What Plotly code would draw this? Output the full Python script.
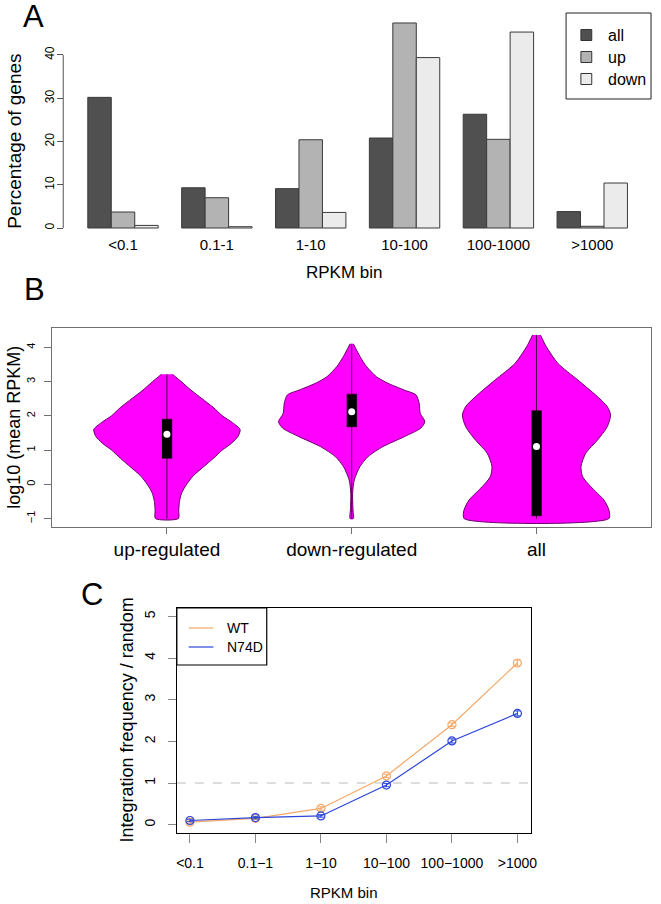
import plotly.graph_objects as go

W, H = 661, 904
FONT = "Liberation Sans, Arial, sans-serif"


def px(x):
    return x / W


def py(y):
    return 1 - y / H


# ---- panel A: percentage of genes per RPKM bin
bins_a = ["<0.1", "0.1-1", "1-10", "10-100", "100-1000", ">1000"]
pct_all = [30.2, 9.3, 9.1, 20.8, 26.3, 3.8]
pct_up = [3.7, 7.0, 20.4, 47.4, 20.5, 0.4]
pct_down = [0.6, 0.3, 3.6, 39.4, 45.3, 10.4]
series_a = ["all", "up", "down"]
colors_a = ["#505050", "#b3b3b3", "#ebebeb"]

# ---- panel B: violin outlines (y level, half width)
groups_b = ["up-regulated", "down-regulated", "all"]
up_y = [3.21, 3.0, 2.75, 2.5, 2.25, 2.0, 1.8, 1.6, 1.4, 1.2, 1.0, 0.75, 0.5,
        0.25, 0.0, -0.25, -0.5, -0.75, -1.0]
up_w = [0.03, 0.077, 0.13, 0.19, 0.25, 0.30, 0.355, 0.396, 0.385, 0.35, 0.30,
        0.25, 0.196, 0.143, 0.107, 0.08, 0.068, 0.064, 0.062]
down_y = [4.10, 3.73, 3.44, 3.14, 2.95, 2.75, 2.61, 2.37, 2.07, 1.83, 1.64,
          1.39, 1.10, 0.81, 0.52, 0.13, -0.26, -0.75, -1.0]
down_w = [0.009, 0.045, 0.080, 0.134, 0.196, 0.285, 0.348, 0.365, 0.371,
          0.396, 0.374, 0.285, 0.169, 0.089, 0.045, 0.014, 0.005, 0.007, 0.009]
all_y = [4.36, 4.02, 3.53, 3.05, 2.56, 2.27, 2.02, 1.68, 1.29, 0.91, 0.52,
         0.22, -0.07, -0.46, -0.75, -1.0]
all_w = [0.021, 0.053, 0.116, 0.223, 0.33, 0.383, 0.401, 0.383, 0.33, 0.267,
         0.241, 0.25, 0.294, 0.365, 0.392, 0.392]
q1_b = [0.76, 1.68, -0.92]
q3_b = [1.90, 2.63, 2.15]
median_b = [1.46, 2.12, 1.10]
BOX_HALF = 0.027

# ---- panel C: integration frequency / random
bins_c = ["<0.1", "0.1\u22121", "1\u221210", "10\u2212100", "100\u22121000", ">1000"]
wt = [0.06, 0.15, 0.39, 1.17, 2.40, 3.88]
wt_err = [0.03, 0.03, 0.04, 0.04, 0.04, 0.07]
n74d = [0.10, 0.17, 0.21, 0.95, 2.01, 2.67]
n74d_err = [0.03, 0.03, 0.03, 0.04, 0.05, 0.06]
WT_COLOR = "#f3a868"
N74D_COLOR = "#2b45db"

fig = go.Figure()

# panel A bars
for name, vals, col in zip(series_a, [pct_all, pct_up, pct_down], colors_a):
    fig.add_trace(go.Bar(
        x=bins_a, y=vals, name=name, xaxis="x", yaxis="y",
        marker={"color": col, "line": {"color": "#3a3a3a", "width": 1}},
    ))

# panel B violins
outlines = [(up_y, up_w), (down_y, down_w), (all_y, all_w)]
for i, (ys, ws) in enumerate(outlines):
    c = i + 1
    xs = [c + w for w in ws] + [c - w for w in reversed(ws)]
    yy = list(ys) + list(reversed(ys))
    fig.add_trace(go.Scatter(
        x=xs, y=yy, xaxis="x2", yaxis="y2", mode="lines", fill="toself",
        fillcolor="#ff00ff", line={"color": "#6a006a", "width": 1,
                                   "shape": "spline", "smoothing": 0.7},
        hoverinfo="skip",
    ))
    fig.add_trace(go.Scatter(
        x=[c, c], y=[min(ys), max(ys)], xaxis="x2", yaxis="y2", mode="lines",
        line={"color": "#4a004a", "width": 1}, hoverinfo="skip",
    ))
    # interquartile box
    fig.add_trace(go.Scatter(
        x=[c - BOX_HALF, c + BOX_HALF, c + BOX_HALF, c - BOX_HALF],
        y=[q1_b[i], q1_b[i], q3_b[i], q3_b[i]], xaxis="x2", yaxis="y2",
        mode="lines", fill="toself", fillcolor="black",
        line={"color": "black", "width": 0.5}, hoverinfo="skip",
    ))

fig.add_trace(go.Scatter(
    x=[1, 2, 3], y=median_b, xaxis="x2", yaxis="y2", mode="markers",
    marker={"color": "white", "size": 7}, hoverinfo="skip",
))

# panel C lines
for vals, errs, col in [(wt, wt_err, WT_COLOR), (n74d, n74d_err, N74D_COLOR)]:
    fig.add_trace(go.Scatter(
        x=bins_c, y=vals, xaxis="x3", yaxis="y3", mode="lines+markers",
        line={"color": col, "width": 1.2},
        marker={"symbol": "circle-open", "size": 8, "color": col,
                "line": {"width": 1.2, "color": col}},
        error_y={"type": "data", "array": errs, "color": col,
                 "thickness": 1, "width": 3},
    ))

shapes = [
    # panel A y axis line (0..40)
    dict(type="line", xref="paper", yref="y", x0=px(63), x1=px(63), y0=0, y1=40,
         line={"color": "#555555", "width": 1}),
    # panel A legend
    dict(type="rect", xref="paper", yref="paper", x0=px(572), x1=px(658),
         y0=py(99), y1=py(13), line={"color": "#222222", "width": 1}),
    # panel C dashed reference line
    dict(type="line", xref="x3 domain", yref="y3", x0=0, x1=1, y0=1, y1=1,
         line={"color": "#bbbbbb", "width": 1.2, "dash": "dash"}, layer="below"),
    # panel C legend
    dict(type="rect", xref="paper", yref="paper", x0=px(178), x1=px(269),
         y0=py(665), y1=py(608), line={"color": "black", "width": 1.2},
         fillcolor="white"),
    dict(type="line", xref="paper", yref="paper", x0=px(190), x1=px(215),
         y0=py(628), y1=py(628), line={"color": WT_COLOR, "width": 1.2}),
    dict(type="line", xref="paper", yref="paper", x0=px(190), x1=px(215),
         y0=py(647), y1=py(647), line={"color": N74D_COLOR, "width": 1.2}),
]
annotations = []
for k, (name, col) in enumerate(zip(series_a, colors_a)):
    yc = 35 + 22 * k
    shapes.append(dict(type="rect", xref="paper", yref="paper",
                       x0=px(587), x1=px(598), y0=py(yc + 5.5), y1=py(yc - 5.5),
                       fillcolor=col, line={"color": "#333333", "width": 1}))
    annotations.append(dict(text=name, x=px(612), y=py(yc), xref="paper",
                            yref="paper", xanchor="left", yanchor="middle",
                            showarrow=False, font={"size": 16}))

for name, yc in [("WT", 628), ("N74D", 647)]:
    annotations.append(dict(text=name, x=px(227), y=py(yc), xref="paper",
                            yref="paper", xanchor="left", yanchor="middle",
                            showarrow=False, font={"size": 14}))

# titles and panel letters
texts = [
    ("A", 33, 16, 31, 0), ("B", 34, 289, 31, 0), ("C", 92, 594, 31, 0),
    ("Percentage of genes", 14, 141, 19, -90),
    ("RPKM bin", 348, 272, 17, 0),
    ("log10 (mean RPKM)", 13, 427, 18, -90),
    ("Integration frequency / random", 128, 720, 18, -90),
    ("RPKM bin", 347, 892, 15, 0),
]
for t, x, y, size, ang in texts:
    annotations.append(dict(text=t, x=px(x), y=py(y), xref="paper", yref="paper",
                            xanchor="center", yanchor="middle", textangle=ang,
                            showarrow=False, font={"size": size}))

fig.update_layout(
    width=W, height=H, margin={"l": 0, "r": 0, "t": 0, "b": 0},
    paper_bgcolor="white", plot_bgcolor="white", showlegend=False,
    font={"family": FONT, "color": "black"},
    barmode="group", bargap=0.25, bargroupgap=0,
    shapes=shapes, annotations=annotations, hovermode=False,
    # panel A
    xaxis=dict(domain=[px(76), px(646)], anchor="y", showgrid=False,
               zeroline=False, showline=False, ticks="", tickfont={"size": 15},
               ticklabelstandoff=2),
    yaxis=dict(domain=[py(232), py(10)], range=[-0.925, 50.4], anchor="free",
               position=px(63), showgrid=False, zeroline=False, showline=False,
               tickvals=[0, 10, 20, 30, 40], ticks="outside", ticklen=6,
               tickcolor="#555555", tickangle=-90, tickfont={"size": 12},
               ticklabelstandoff=-2),
    # panel B
    xaxis2=dict(domain=[px(52), px(658)], range=[0.38, 3.62], anchor="y2",
                showgrid=False, zeroline=False, showline=True, mirror=True,
                linecolor="#707070", tickvals=[1, 2, 3], ticktext=groups_b,
                ticks="outside", ticklen=6, tickcolor="#707070",
                tickfont={"size": 19}, ticklabelstandoff=-1),
    yaxis2=dict(domain=[py(527), py(328)], range=[-1.247, 4.563], anchor="x2",
                showgrid=False, zeroline=False, showline=True, mirror=True,
                linecolor="#707070", tickvals=[-1, 0, 1, 2, 3, 4],
                ticks="outside", ticklen=7, tickcolor="#707070", tickangle=-90,
                tickfont={"size": 11}, ticklabelstandoff=5),
    # panel C
    xaxis3=dict(domain=[px(178), px(536)], range=[-0.2, 5.2], anchor="y3",
                type="category", showgrid=False, zeroline=False, showline=True,
                mirror=True, linecolor="black", ticks="outside", ticklen=9,
                tickcolor="#888888", tickfont={"size": 14}, ticklabelstandoff=8),
    yaxis3=dict(domain=[py(833), py(608)], range=[-0.2, 5.2], anchor="x3",
                showgrid=False, zeroline=False, showline=True, mirror=True,
                linecolor="black", tickvals=[0, 1, 2, 3, 4, 5], ticks="outside",
                ticklen=8, tickcolor="#888888", tickangle=-90,
                tickfont={"size": 14}, ticklabelstandoff=7),
)

fig.write_html("out.html", config={"displayModeBar": False},
               post_script="document.body.style.margin = '0';")
